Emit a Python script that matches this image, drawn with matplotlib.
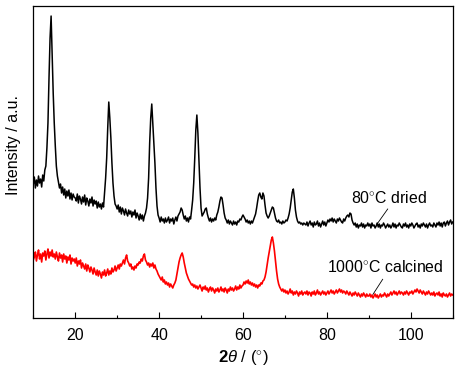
import numpy as np
import matplotlib
matplotlib.use("Agg")
import matplotlib.pyplot as plt

plt.rcParams['font.family'] = ['Liberation Sans', 'DejaVu Sans']
plt.rcParams['mathtext.fontset'] = 'custom'
plt.rcParams['mathtext.rm'] = 'Liberation Sans'
plt.rcParams['mathtext.it'] = 'Liberation Sans:italic'
plt.rcParams['mathtext.bf'] = 'Liberation Sans:bold'

# 2theta grid (degrees): 10 .. 110 in 0.25 steps
two_theta_start = 10.0
two_theta_step = 0.25

dried_80C = [
    134, 141, 130, 138, 132, 142, 135, 139, 131, 143, 137, 148, 152, 170, 195, 240, 280, 302, 262, 225,
    195, 172, 152, 142, 136, 130, 134, 125, 131, 123, 129, 120, 127, 122, 128, 119, 125, 118, 124, 121,
    120, 117, 124, 115, 122, 119, 114, 121, 116, 123, 113, 120, 117, 112, 119, 115, 121, 112, 118, 114,
    117, 110, 116, 111, 114, 109, 115, 111, 126, 140, 160, 190, 216, 200, 180, 155, 135, 122, 114, 112,
    109, 113, 106, 111, 104, 110, 107, 103, 109, 105, 102, 108, 104, 107, 101, 106, 103, 108, 100, 105,
    102, 98, 104, 99, 103, 97, 102, 105, 110, 120, 140, 175, 200, 214, 195, 175, 155, 130, 112, 103,
    100, 96, 101, 97, 99, 95, 100, 96, 98, 101, 95, 99, 97, 100, 94, 98, 101, 97, 102, 104,
    106, 110, 108, 103, 99, 102, 97, 100, 96, 101, 99, 108, 118, 135, 160, 188, 203, 185, 158, 130,
    110, 102, 104, 106, 109, 110, 104, 100, 97, 100, 96, 99, 97, 100, 98, 103, 106, 111, 117, 121,
    120, 113, 105, 100, 98, 95, 98, 94, 97, 95, 93, 97, 94, 96, 93, 97, 96, 99, 98, 101,
    103, 101, 99, 96, 98, 95, 97, 94, 97, 95, 98, 101, 104, 110, 117, 123, 125, 121, 119, 125,
    122, 113, 105, 102, 100, 102, 105, 108, 111, 110, 105, 100, 97, 96, 98, 95, 96, 94, 97, 95,
    96, 98, 97, 100, 104, 110, 118, 126, 129, 120, 108, 101, 97, 95, 96, 94, 95, 93, 95, 94,
    93, 96, 92, 95, 97, 93, 95, 91, 96, 93, 94, 97, 92, 95, 91, 94, 97, 93, 96, 92,
    95, 98, 96, 99, 97, 100, 96, 99, 97, 95, 99, 97, 100, 98, 96, 95, 99, 97, 100, 102,
    103, 101, 105, 104, 98, 95, 93, 95, 91, 94, 90, 93, 92, 95, 91, 94, 90, 93, 92, 95,
    92, 94, 90, 95, 92, 93, 90, 92, 95, 91, 94, 90, 93, 92, 95, 93, 90, 92, 94, 91,
    93, 90, 92, 95, 91, 94, 90, 93, 92, 95, 93, 91, 90, 94, 92, 95, 91, 93, 90, 94,
    92, 95, 93, 90, 92, 94, 95, 91, 93, 90, 94, 92, 95, 93, 91, 94, 90, 93, 95, 92,
    93, 91, 95, 93, 91, 95, 93, 96, 92, 95, 91, 95, 96, 92, 95, 97, 93, 96, 98, 94,
    96,
]

calcined_1000C = [
    58, 61, 66, 57, 63, 68, 59, 64, 56, 65, 62, 67, 58, 64, 69, 60, 66, 62, 68, 61,
    64, 59, 66, 61, 57, 65, 60, 63, 56, 64, 59, 62, 55, 61, 58, 63, 54, 60, 57, 59,
    55, 60, 52, 57, 54, 58, 50, 55, 52, 49, 54, 47, 53, 50, 46, 51, 48, 44, 50, 46,
    43, 48, 42, 47, 44, 40, 46, 43, 48, 42, 45, 49, 43, 47, 44, 50, 46, 48, 52, 47,
    50, 53, 49, 54, 52, 55, 58, 54, 60, 63, 57, 55, 52, 54, 49, 51, 48, 52, 50, 54,
    53, 56, 55, 59, 57, 62, 64, 58, 56, 53, 55, 51, 54, 52, 55, 50, 53, 49, 47, 44,
    42, 40, 38, 41, 36, 38, 34, 36, 33, 35, 31, 34, 32, 30, 33, 35, 38, 44, 50, 56,
    60, 63, 65, 61, 55, 50, 45, 42, 39, 37, 35, 33, 34, 31, 33, 30, 32, 29, 31, 33,
    30, 27, 31, 29, 32, 28, 30, 26, 29, 31, 27, 30, 28, 25, 29, 27, 30, 26, 28, 31,
    27, 29, 26, 30, 28, 25, 29, 27, 31, 28, 30, 27, 29, 32, 28, 31, 29, 33, 30, 32,
    33, 36, 34, 37, 35, 38, 34, 36, 33, 35, 32, 34, 31, 33, 30, 33, 32, 35, 34, 37,
    38, 41, 46, 53, 60, 66, 72, 78, 81, 75, 67, 57, 47, 39, 34, 31, 29, 27, 29, 26,
    28, 25, 27, 24, 26, 29, 25, 27, 23, 26, 24, 27, 25, 22, 26, 24, 27, 23, 25, 26,
    24, 27, 23, 26, 25, 22, 26, 24, 27, 23, 25, 28, 24, 26, 23, 25, 27, 24, 26, 23,
    25, 27, 24, 26, 28, 25, 27, 24, 26, 28, 25, 27, 29, 26, 28, 25, 27, 26, 24, 27,
    25, 23, 26, 24, 22, 25, 23, 26, 24, 22, 25, 23, 21, 24, 22, 25, 23, 21, 24, 22,
    22, 24, 21, 23, 20, 22, 24, 21, 23, 20, 22, 24, 21, 23, 22, 25, 23, 21, 24, 22,
    24, 26, 23, 25, 27, 24, 26, 23, 25, 27, 24, 26, 25, 23, 26, 24, 27, 25, 23, 26,
    25, 27, 24, 26, 28, 26, 29, 27, 25, 28, 26, 24, 27, 25, 23, 26, 24, 27, 25, 23,
    25, 23, 26, 22, 24, 25, 23, 26, 22, 24, 21, 25, 23, 22, 24, 21, 23, 25, 22, 24,
    23,
]

x_ticks = [20, 40, 60, 80, 100]
label_dried = "80$^{\\circ}$C dried"
label_calc = "1000$^{\\circ}$C calcined"

two_theta = two_theta_start + two_theta_step * np.arange(len(dried_80C))

fig = plt.figure(figsize=(4.59, 3.77), dpi=100)
ax = fig.add_axes([0.0725, 0.1565, 0.9138, 0.8275])

ax.plot(two_theta, dried_80C, color='black', lw=1.1)
ax.plot(two_theta, calcined_1000C, color='#ff0000', lw=1.2)

ax.set_xlim(10, 110)
ax.set_ylim(0, 312)
ax.set_xticks(x_ticks)
ax.set_xticks(np.arange(10, 111, 10), minor=True)
ax.set_yticks([])
ax.tick_params(axis='x', which='major', direction='in', length=4, width=0.8,
               labelsize=11.5, pad=7, top=False)
ax.tick_params(axis='x', which='minor', direction='in', length=2.4, width=0.8, top=False)
for s in ax.spines.values():
    s.set_linewidth(0.9)

ax.set_xlabel(r"$\mathbf{2}\mathit{\theta}$ / ($^{\circ}$)", fontsize=12, labelpad=4)
ax.set_ylabel("Intensity / a.u.", fontsize=11.5, labelpad=6)
ax.yaxis.set_label_coords(-0.03, 0.555)

ax.text(94.7, 120, label_dried, fontsize=11.4, ha='center', va='center')
ax.plot([94.5, 91.8], [109, 93], color='black', lw=0.6)
ax.text(93.9, 51.5, label_calc, fontsize=11.4, ha='center', va='center')
ax.plot([93.3, 91.0], [38.7, 23.7], color='black', lw=0.6)

fig.savefig("out.png", dpi=100)
